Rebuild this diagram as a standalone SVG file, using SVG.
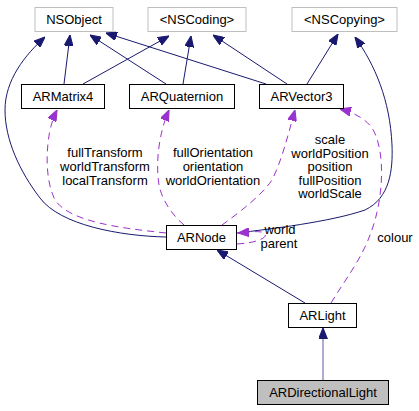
<svg xmlns="http://www.w3.org/2000/svg" width="419" height="411" viewBox="0 0 419 411">
<style>
text{font-family:"Liberation Sans",Arial,sans-serif;font-size:13px;fill:#000}
.n{fill:#fff;stroke:#000;stroke-width:1}
.x{fill:#fff;stroke:#bfbfbf;stroke-width:1}
.c{fill:#bfbfbf;stroke:#000;stroke-width:1}
.i{fill:none;stroke:#191970;stroke-width:1}
.u{fill:none;stroke:#9a32cd;stroke-width:1;stroke-dasharray:7,5}
.m{text-anchor:middle}
</style>
<defs>
<marker id="ai" viewBox="0 0 10 8" refX="10" refY="4" markerWidth="11" markerHeight="9" markerUnits="userSpaceOnUse" orient="auto"><path d="M0,0 L10,4 L0,8 z" fill="#191970" stroke="#191970"/></marker>
<marker id="au" viewBox="0 0 10 8" refX="10" refY="4" markerWidth="11" markerHeight="9" markerUnits="userSpaceOnUse" orient="auto"><path d="M0,0 L10,4 L0,8 z" fill="#9a32cd" stroke="#9a32cd"/></marker>
</defs>
<rect width="419" height="411" fill="#fff"/>
<g id="edges">
<path class="i" marker-end="url(#ai)" d="M64,84 L70,35"/>
<path class="i" marker-end="url(#ai)" d="M83,84 L169,36"/>
<path class="i" marker-end="url(#ai)" d="M166,84 L90,35"/>
<path class="i" marker-end="url(#ai)" d="M183,84 L191,36"/>
<path class="i" marker-end="url(#ai)" d="M266,84 L106,33"/>
<path class="i" marker-end="url(#ai)" d="M287,84 L213,35"/>
<path class="i" marker-end="url(#ai)" d="M307,84 L338,34"/>
<path class="i" marker-end="url(#ai)" d="M166,237 C120,236 60,225 40,198 C20,172 5,140 5,110 C5,80 25,55 45,37"/>
<path class="i" marker-end="url(#ai)" d="M237,233 C270,229 330,222 365,210 C390,198 393,170 392,145 C390,100 375,65 355,37"/>
<path class="i" marker-end="url(#ai)" d="M305,303 L217,250"/>
<path class="i" marker-end="url(#ai)" d="M323,380 L323,328" style="stroke:#5a5aa6"/>
<path class="u" marker-end="url(#au)" d="M166,233 C120,228 70,222 55,200 C45,180 46,150 50,130 C52,122 54,116 57,110"/>
<path class="u" marker-end="url(#au)" d="M184,225 C172,215 162,200 159,185 C155,160 160,130 169,110"/>
<path class="u" marker-end="url(#au)" d="M222,225 C240,212 262,195 272,180 C282,160 288,135 295,110"/>
<path class="u" marker-end="url(#au)" d="M331,303 C345,280 362,258 370,235 C384,200 386,150 372,128 C365,118 352,112 340,109"/>
<path class="u" marker-end="url(#au)" d="M237,244 C255,243 268,238 265,234 C262,230 252,232 238,233"/>
<text class="m" x="105" y="157">fullTransform</text>
<text class="m" x="105" y="171">worldTransform</text>
<text class="m" x="105" y="185">localTransform</text>
<text class="m" x="213" y="157">fullOrientation</text>
<text class="m" x="213" y="171">orientation</text>
<text class="m" x="213" y="185">worldOrientation</text>
<text class="m" x="330" y="144">scale</text>
<text class="m" x="330" y="157.5">worldPosition</text>
<text class="m" x="330" y="171">position</text>
<text class="m" x="330" y="184.5">fullPosition</text>
<text class="m" x="330" y="198">worldScale</text>
<text class="m" x="280" y="233.5">world</text>
<text class="m" x="279" y="247.5">parent</text>
<text class="m" x="395" y="242">colour</text>
</g>
<g id="NSObject"><rect class="x" x="35" y="7.5" width="78" height="24"/><text class="m" x="74" y="24">NSObject</text></g>
<g id="NSCoding"><rect class="x" x="148" y="7.5" width="98" height="24"/><text class="m" x="197" y="24">&lt;NSCoding&gt;</text></g>
<g id="NSCopying"><rect class="x" x="292" y="7.5" width="105" height="24"/><text class="m" x="344.5" y="24">&lt;NSCopying&gt;</text></g>
<g id="ARMatrix4"><rect class="n" x="21.5" y="84.5" width="83" height="24"/><text class="m" x="63" y="101">ARMatrix4</text></g>
<g id="ARQuaternion"><rect class="n" x="129.5" y="84.5" width="105" height="24"/><text class="m" x="182" y="101">ARQuaternion</text></g>
<g id="ARVector3"><rect class="n" x="259.5" y="84.5" width="84" height="24"/><text class="m" x="301.5" y="101">ARVector3</text></g>
<g id="ARNode"><rect class="n" x="166.5" y="225.5" width="70" height="24"/><text class="m" x="201.5" y="242">ARNode</text></g>
<g id="ARLight"><rect class="n" x="288.5" y="303.5" width="68" height="24"/><text class="m" x="322.5" y="320">ARLight</text></g>
<g id="ARDirectionalLight"><rect class="c" x="257.5" y="380.5" width="131" height="24"/><text class="m" x="323" y="397">ARDirectionalLight</text></g>
</svg>
